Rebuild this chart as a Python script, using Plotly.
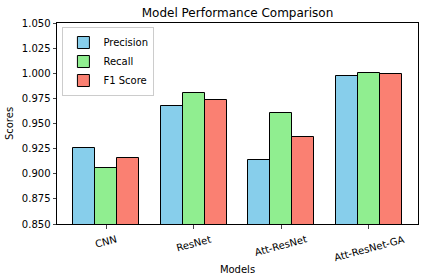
import plotly.graph_objects as go

models = ["CNN", "ResNet", "Att-ResNet", "Att-ResNet-GA"]
precision = [0.926, 0.967, 0.914, 0.997]
recall = [0.906, 0.980, 0.960, 1.000]
f1 = [0.916, 0.973, 0.937, 0.999]
series_names = ["Precision", "Recall", "F1 Score"]
colors = ["#87CEEB", "#90EE90", "#FA8072"]

fig = go.Figure()
x_idx = list(range(len(models)))
w = 0.25
for k, (name, vals, c) in enumerate(zip(series_names, [precision, recall, f1], colors)):
    fig.add_trace(go.Bar(
        x=[i + (k - 1) * w for i in x_idx], y=vals, width=w, name=name,
        marker=dict(color=c, line=dict(color="black", width=1)),
        base=0,
    ))

# category labels, rotated and centred under each tick (as matplotlib does)
for i, m in zip(x_idx, models):
    fig.add_annotation(x=i, xref="x", y=-0.035, yref="paper", text=m, showarrow=False,
                       textangle=-15, xanchor="center", yanchor="top",
                       font=dict(size=10, color="black"))

fig.update_layout(
    width=424, height=280,
    margin=dict(l=57, r=6, t=23, b=56, autoexpand=False),
    paper_bgcolor="white", plot_bgcolor="white",
    font=dict(family="DejaVu Sans", size=10, color="black"),
    title=dict(text="Model Performance Comparison", xref="paper", x=0.5, xanchor="center",
               yref="container", y=0.953, yanchor="middle", font=dict(size=12)),
    showlegend=True,
    legend=dict(x=0.015, y=0.98, xanchor="left", yanchor="top",
                bordercolor="#cccccc", borderwidth=1, bgcolor="rgba(255,255,255,0.8)",
                font=dict(size=10), tracegroupgap=0, itemwidth=30),
    bargap=0,
)
fig.update_xaxes(
    range=[-0.5625, 3.5625], tickvals=x_idx, showticklabels=False,
    showline=True, linecolor="black", linewidth=1, mirror=True,
    ticks="outside", ticklen=3.5, showgrid=False, zeroline=False, automargin=False,
    title=dict(text="Models", standoff=38, font=dict(size=10)),
)
fig.update_yaxes(
    range=[0.85, 1.05], tickvals=[0.85, 0.875, 0.9, 0.925, 0.95, 0.975, 1.0, 1.025, 1.05],
    tickformat=".3f", automargin=False,
    showline=True, linecolor="black", linewidth=1, mirror=True,
    ticks="outside", ticklen=3.5, showgrid=False, zeroline=False,
    title=dict(text="Scores", standoff=6, font=dict(size=10)),
)

fig.write_html("out.html", config={"displayModeBar": False},
               post_script="document.body.style.margin='0';")
